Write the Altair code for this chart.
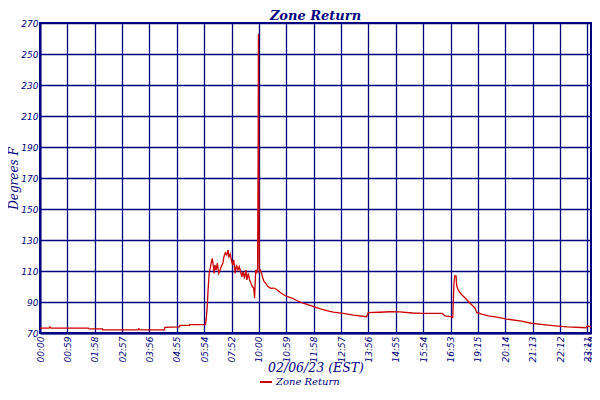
import altair as alt
import pandas as pd

# x positions expressed in axis-slot units (one slot = one labelled gridline step)
slot = [0.00, 0.33, 0.36, 0.40, 1.77, 1.79, 2.28, 2.29, 3.58, 3.61, 3.66, 4.55, 4.56, 5.10, 5.11,
        5.46, 5.47, 6.04, 6.07, 6.11, 6.14, 6.18, 6.24, 6.29, 6.32, 6.36, 6.39, 6.43, 6.48, 6.53,
        6.58, 6.62, 6.68, 6.72, 6.77, 6.82, 6.87, 6.90, 6.95, 6.99, 7.04, 7.08, 7.13, 7.18, 7.23,
        7.28, 7.33, 7.37, 7.42, 7.47, 7.52, 7.56, 7.61, 7.66, 7.71, 7.76, 7.81, 7.84, 7.88, 7.91,
        7.95, 7.97, 7.98, 7.99, 8.01, 8.05, 8.10, 8.14, 8.19, 8.25, 8.31, 8.43, 8.55, 8.67, 8.79,
        8.92, 9.04, 9.22, 9.40, 9.58, 9.76, 10.00, 10.24, 10.48, 10.72, 11.08, 11.45, 11.93, 11.99,
        12.41, 12.77, 13.13, 13.61, 13.98, 14.34, 14.70, 14.79, 15.03, 15.08, 15.12, 15.15, 15.20,
        15.22, 15.26, 15.32, 15.42, 15.54, 15.66, 15.78, 15.90, 15.96, 16.14, 16.38, 16.74, 17.05,
        17.59, 17.95, 18.31, 18.91, 19.27, 19.94, 20.00, 20.13]
temp = [73.2, 73.2, 74.0, 73.2, 73.2, 72.6, 72.6, 72.0, 72.0, 72.8, 72.0, 72.0, 73.7, 73.9, 74.9,
        74.9, 75.4, 75.4, 78.4, 87.0, 97.7, 108.5, 113.9, 118.2, 115.0, 108.5, 113.9, 110.6, 115.0, 108.5,
        110.6, 112.8, 115.0, 119.2, 121.8, 120.3, 123.5, 119.2, 121.0, 117.1, 113.9, 117.1, 108.5, 113.9, 110.6,
        112.8, 109.5, 106.3, 109.5, 105.3, 110.6, 104.2, 108.5, 104.2, 102.0, 99.9, 98.8, 92.4, 110.6, 108.5,
        111.7, 190.0, 263.0, 185.0, 109.5, 110.6, 108.5, 105.3, 103.1, 102.0, 100.3, 98.8, 99.0, 97.7, 96.0,
        94.5, 93.4, 92.4, 90.8, 89.5, 88.5, 87.0, 85.5, 84.4, 83.4, 82.7, 81.6, 80.5, 83.1,
        83.4, 83.7, 83.6, 82.9, 82.7, 82.7, 82.7, 81.0, 80.6, 80.1, 101.0, 106.8, 106.8,
        101.0, 98.4, 96.6, 94.5, 92.4, 90.2, 88.1, 85.9, 83.1, 82.1, 81.0, 80.1, 79.0,
        77.7, 76.3, 75.6, 74.5, 73.9, 73.4, 74.5, 74.0]

tick_pos = list(range(21)) + [20.13]
tick_labels = ["00:00", "00:59", "01:58", "02:57", "03:56", "04:55", "05:54", "07:52", "10:00",
               "10:59", "11:58", "12:57", "13:56", "14:55", "15:54", "16:53", "19:15", "20:14",
               "21:13", "22:12", "23:11", "23:59"]
y_ticks = [70, 90, 110, 130, 150, 170, 190, 210, 230, 250, 270]

df = pd.DataFrame({"slot": slot, "temp": temp, "series": "Zone Return"})

NAVY = "#000080"
RED = "#CC0000"

label_expr = " : ".join(
    f"datum.value < {p + 0.05} ? '{l}'" for p, l in zip(tick_pos, tick_labels)
) + " : ''"

chart = alt.Chart(df).mark_line(strokeWidth=1.3, clip=True).encode(
    x=alt.X("slot:Q",
            scale=alt.Scale(domain=[0, 20.13], nice=False, zero=False),
            axis=alt.Axis(values=tick_pos, labelExpr=label_expr, labelAngle=270,
                          labelOverlap=False, labelBound=False, labelFlush=False,
                          ticks=False, labelPadding=3,
                          title="02/06/23 (EST)", titlePadding=0, titleFontSize=12.5)),
    y=alt.Y("temp:Q",
            scale=alt.Scale(domain=[70, 270], nice=False, zero=False),
            axis=alt.Axis(values=y_ticks, ticks=False, labelPadding=2,
                          title="Degrees F", titlePadding=0, titleFontSize=12)),
    color=alt.Color("series:N", scale=alt.Scale(range=[RED]),
                    legend=alt.Legend(title=None, orient="none", legendX=219, legendY=352,
                                      symbolType="stroke", symbolStrokeWidth=2, symbolSize=144,
                                      labelFont="DejaVu Serif", labelFontStyle="italic",
                                      labelFontSize=10, labelColor=NAVY, padding=0,
                                      labelOffset=3)),
).properties(
    width=551,
    height=310,
    title=alt.TitleParams("Zone Return", font="DejaVu Serif", fontStyle="italic",
                          fontWeight="bold", fontSize=13, color=NAVY, anchor="middle",
                          frame="group", offset=-4),
    autosize=alt.AutoSizeParams(type="none"),
    padding={"left": 32, "top": 15, "right": 1, "bottom": 55},
).configure_axis(
    gridColor=NAVY, gridWidth=1.3, gridOpacity=1,
    domainColor=NAVY, domainWidth=2,
    labelFont="DejaVu Sans", labelFontStyle="italic", labelFontSize=9, labelColor=NAVY,
    titleFont="DejaVu Serif", titleFontStyle="italic", titleFontWeight="normal",
    titleFontSize=14, titleColor=NAVY,
).configure_view(
    stroke=NAVY, strokeWidth=2
)

chart.save("out.html", embed_options={"renderer": "svg", "actions": False})
